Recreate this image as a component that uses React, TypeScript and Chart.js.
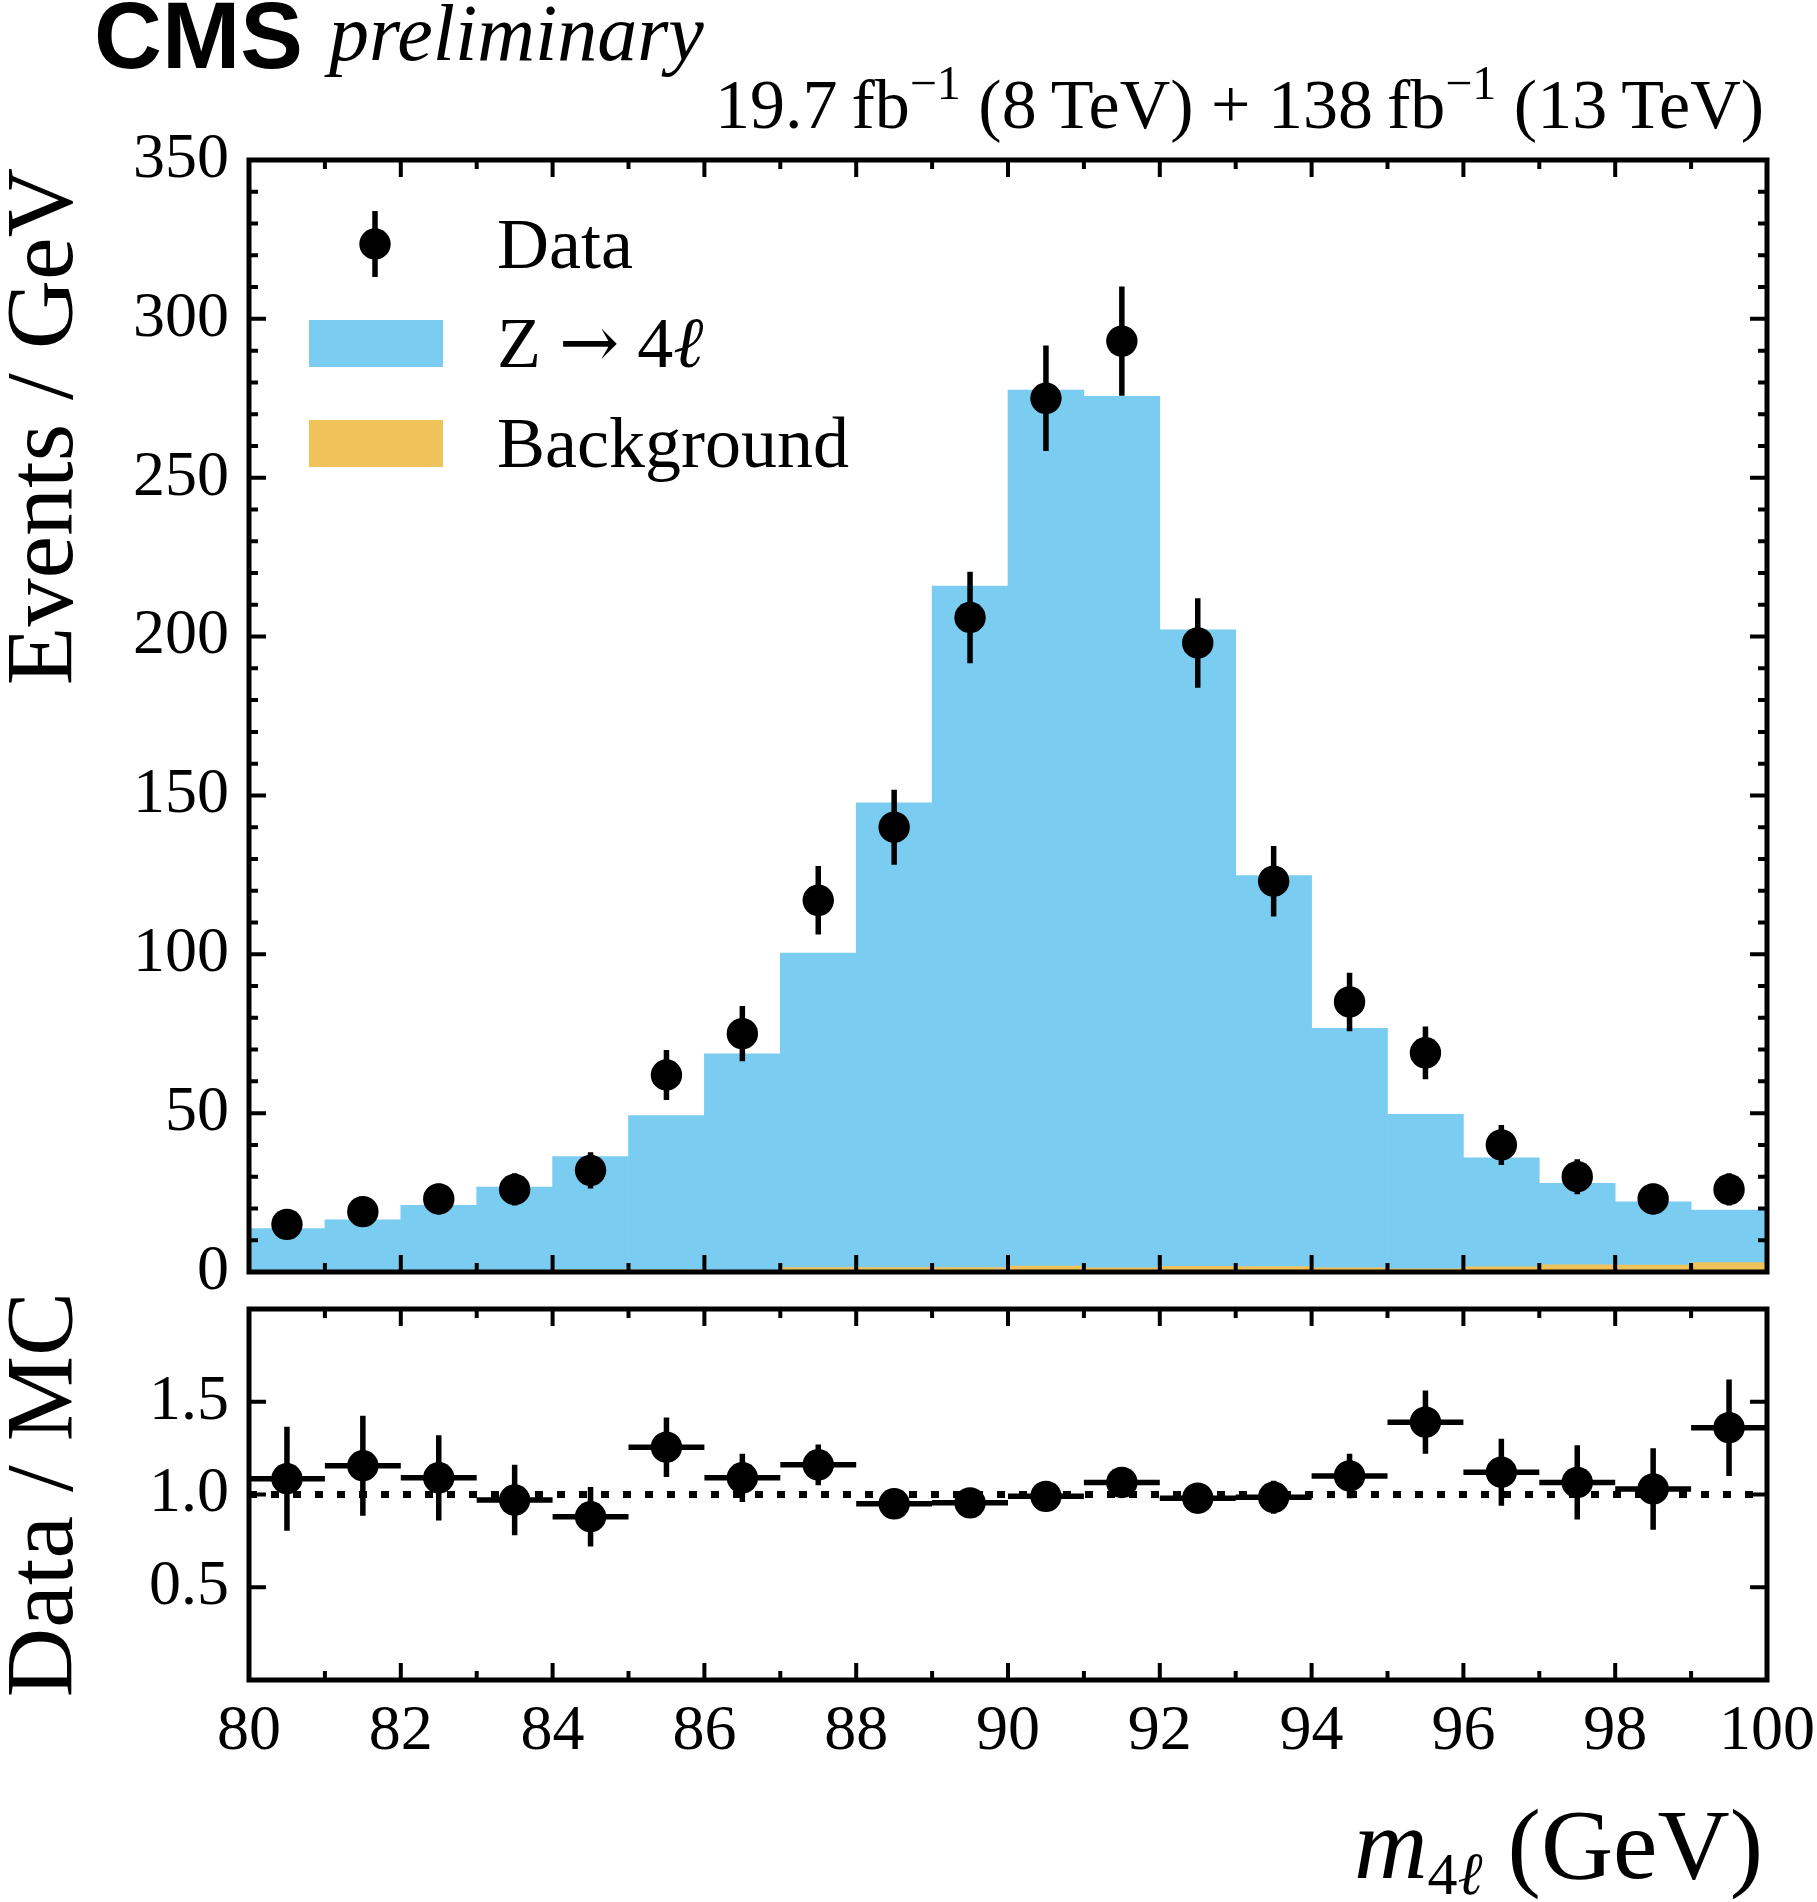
import React, { useEffect, useRef } from "react";
import { Chart, registerables } from "chart.js";

Chart.register(...registerables);

// ---------------- data ----------------
const binLabels = [
  "80-81", "81-82", "82-83", "83-84", "84-85", "85-86", "86-87", "87-88", "88-89", "89-90",
  "90-91", "91-92", "92-93", "93-94", "94-95", "95-96", "96-97", "97-98", "98-99", "99-100",
];
const binCenters = [
  80.5, 81.5, 82.5, 83.5, 84.5, 85.5, 86.5, 87.5, 88.5, 89.5,
  90.5, 91.5, 92.5, 93.5, 94.5, 95.5, 96.5, 97.5, 98.5, 99.5,
];
const dataCounts = [15, 19, 23, 26, 32, 62, 75, 117, 140, 206, 275, 293, 198, 123, 85, 69, 40, 30, 23, 26];
const dataErrors = [3.9, 4.4, 4.8, 5.1, 5.7, 7.9, 8.7, 10.8, 11.8, 14.4, 16.6, 17.2, 14.1, 11.1, 9.2, 8.3, 6.3, 5.5, 4.8, 5.1];
const backgroundYield = [0.3, 0.3, 0.5, 0.5, 0.9, 0.9, 0.4, 1.6, 1.6, 1.6, 2.1, 1.5, 2.0, 1.9, 1.5, 1.2, 1.8, 2.5, 2.4, 3.2];
const zSignal = [13.4, 16.1, 20.5, 26.2, 35.4, 48.3, 68.3, 98.8, 146.1, 214.3, 275.5, 274.1, 200.1, 122.9, 75.2, 48.4, 34.1, 25.4, 19.7, 16.3];
const ratioValues = [1.085, 1.155, 1.09, 0.97, 0.88, 1.255, 1.09, 1.16, 0.95, 0.955, 0.99, 1.065, 0.98, 0.985, 1.1, 1.39, 1.12, 1.065, 1.03, 1.36];
const ratioErrors = [0.28, 0.27, 0.23, 0.19, 0.16, 0.16, 0.13, 0.11, 0.08, 0.067, 0.06, 0.062, 0.07, 0.089, 0.12, 0.17, 0.18, 0.2, 0.22, 0.26];

const xMajorTicks = [80, 82, 84, 86, 88, 90, 92, 94, 96, 98, 100];
const xMinorTicks = [81, 83, 85, 87, 89, 91, 93, 95, 97, 99];
const mainYMajorTicks = [0, 50, 100, 150, 200, 250, 300, 350];
const mainYMinorTicks = [10, 20, 30, 40, 60, 70, 80, 90, 110, 120, 130, 140, 160, 170, 180, 190, 210, 220, 230, 240, 260, 270, 280, 290, 310, 320, 330, 340];
const ratioYMajorTicks = [0.5, 1.0, 1.5];

// ---------------- style ----------------
const BLUE = "#7acdf1";
const ORANGE = "#f0c35a";
const SERIF = "'Liberation Serif', 'Times New Roman', serif";
const SANS = "'Liberation Sans', Arial, sans-serif";
const W = 1817;
const H = 1902;
const AREA_LEFT = 249;
const AREA_RIGHT = 1767;
const MAIN_TOP = 160;
const MAIN_BOTTOM = 1272;
const RATIO_TOP = 1309;
const RATIO_BOTTOM = 1680;
const MAIN_CANVAS_H = 1320;
const RATIO_CANVAS_TOP = 1240;
const RATIO_CANVAS_H = H - RATIO_CANVAS_TOP;
const MARKER_R = 15.7;
const ERR_LW = 5.5;
const FRAME_LW = 5;
const TICK_LW = 4;
const MAJOR_LEN = 17;
const MINOR_LEN = 9;
const TICK_FONT = 64;
const LEG_FONT = 72;

function frameTicksPlugin(id: string, yMajor: number[], yMinor: number[]) {
  return {
    id,
    afterDatasetsDraw(chart: any) {
      const { ctx, chartArea } = chart;
      const xs = chart.scales.x;
      const ys = chart.scales.y;
      const { left, right, top, bottom } = chartArea;
      ctx.save();
      ctx.strokeStyle = "#000";
      ctx.lineWidth = TICK_LW;
      ctx.lineCap = "butt";
      ctx.beginPath();
      const vx = (vals: number[], len: number) => {
        vals.forEach((v) => {
          const px = xs.getPixelForValue(v);
          ctx.moveTo(px, bottom);
          ctx.lineTo(px, bottom - len);
          ctx.moveTo(px, top);
          ctx.lineTo(px, top + len);
        });
      };
      const vy = (vals: number[], len: number) => {
        vals.forEach((v) => {
          const py = ys.getPixelForValue(v);
          ctx.moveTo(left, py);
          ctx.lineTo(left + len, py);
          ctx.moveTo(right, py);
          ctx.lineTo(right - len, py);
        });
      };
      vx(xMajorTicks, MAJOR_LEN);
      vx(xMinorTicks, MINOR_LEN);
      vy(yMajor, MAJOR_LEN);
      vy(yMinor, MINOR_LEN);
      ctx.stroke();
      ctx.lineWidth = FRAME_LW;
      ctx.strokeRect(left, top, right - left, bottom - top);
      ctx.restore();
    },
  };
}

function errorBarPlugin(id: string, yVals: number[], yErr: number[], withX: boolean) {
  return {
    id,
    afterDatasetsDraw(chart: any) {
      const { ctx } = chart;
      const xs = chart.scales.x;
      const ys = chart.scales.y;
      ctx.save();
      ctx.strokeStyle = "#000";
      ctx.lineWidth = ERR_LW;
      ctx.beginPath();
      binCenters.forEach((x, i) => {
        const px = xs.getPixelForValue(x);
        ctx.moveTo(px, ys.getPixelForValue(yVals[i] - yErr[i]));
        ctx.lineTo(px, ys.getPixelForValue(yVals[i] + yErr[i]));
        if (withX) {
          const py = ys.getPixelForValue(yVals[i]);
          ctx.moveTo(xs.getPixelForValue(x - 0.5), py);
          ctx.lineTo(xs.getPixelForValue(x + 0.5), py);
        }
      });
      ctx.stroke();
      ctx.restore();
    },
  };
}

type Seg = { t: string; size: number; italic?: boolean; dy?: number; family?: string; bold?: boolean };

function segFont(s: Seg) {
  return `${s.italic ? "italic " : ""}${s.bold ? "bold " : ""}${s.size}px ${s.family || SERIF}`;
}

function drawSegs(ctx: CanvasRenderingContext2D, segs: Seg[], x: number, y: number, align: "left" | "right") {
  ctx.save();
  ctx.textAlign = "left";
  ctx.textBaseline = "alphabetic";
  ctx.fillStyle = "#000";
  let total = 0;
  segs.forEach((s) => {
    ctx.font = segFont(s);
    total += ctx.measureText(s.t).width;
  });
  let cx = align === "right" ? x - total : x;
  segs.forEach((s) => {
    ctx.font = segFont(s);
    ctx.fillText(s.t, cx, y + (s.dy || 0));
    cx += ctx.measureText(s.t).width;
  });
  ctx.restore();
}

const mainDecorPlugin = {
  id: "mainDecor",
  afterDraw(chart: any) {
    const ctx: CanvasRenderingContext2D = chart.ctx;
    // CMS label
    drawSegs(ctx, [{ t: "CMS", size: 94, bold: true, family: SANS }], 94, 68, "left");
    drawSegs(ctx, [{ t: "preliminary", size: 80, italic: true }], 329, 60, "left");
    // luminosity
    drawSegs(
      ctx,
      [
        { t: "19.7\u2009fb", size: 70 },
        { t: "\u22121", size: 48, dy: -29 },
        { t: " (8\u2009TeV) + 138\u2009fb", size: 70 },
        { t: "\u22121", size: 48, dy: -29 },
        { t: " (13\u2009TeV)", size: 70 },
      ],
      1764,
      128,
      "right"
    );
    // y title
    ctx.save();
    ctx.fillStyle = "#000";
    ctx.font = `96px ${SERIF}`;
    ctx.translate(72, 168);
    ctx.rotate(-Math.PI / 2);
    ctx.textAlign = "right";
    ctx.textBaseline = "alphabetic";
    ctx.fillText("Events / GeV", 0, 0);
    ctx.restore();
    // legend
    ctx.save();
    ctx.fillStyle = "#000";
    ctx.strokeStyle = "#000";
    ctx.lineWidth = ERR_LW;
    ctx.beginPath();
    ctx.moveTo(375, 211);
    ctx.lineTo(375, 277);
    ctx.stroke();
    ctx.beginPath();
    ctx.arc(375, 244, MARKER_R, 0, Math.PI * 2);
    ctx.fill();
    ctx.fillStyle = BLUE;
    ctx.fillRect(309, 320, 134, 47);
    ctx.fillStyle = ORANGE;
    ctx.fillRect(309, 420, 134, 47);
    ctx.restore();
    drawSegs(ctx, [{ t: "Data", size: LEG_FONT }], 497, 268, "left");
    drawSegs(
      ctx,
      [
        { t: "Z ", size: LEG_FONT },
        { t: "\u2192", size: LEG_FONT, family: "'DejaVu Serif', serif" },
        { t: " 4", size: LEG_FONT },
        { t: "\u2113", size: LEG_FONT, italic: true },
      ],
      497,
      367,
      "left"
    );
    drawSegs(ctx, [{ t: "Background", size: LEG_FONT }], 497, 467, "left");
  },
};

const ratioDecorPlugin = {
  id: "ratioDecor",
  afterDraw(chart: any) {
    const ctx: CanvasRenderingContext2D = chart.ctx;
    const area = chart.chartArea;
    ctx.save();
    ctx.fillStyle = "#000";
    ctx.font = `96px ${SERIF}`;
    ctx.translate(72, (area.top + area.bottom) / 2);
    ctx.rotate(-Math.PI / 2);
    ctx.textAlign = "center";
    ctx.textBaseline = "alphabetic";
    ctx.fillText("Data / MC", 0, 0);
    ctx.restore();
    drawSegs(
      ctx,
      [
        { t: "m", size: 102, italic: true },
        { t: "4", size: 60, dy: 16 },
        { t: "\u2113", size: 60, italic: true, dy: 16 },
        { t: " (GeV)", size: 100 },
      ],
      1763,
      1878 - RATIO_CANVAS_TOP,
      "right"
    );
  },
};

export default function App() {
  const mainRef = useRef<HTMLCanvasElement | null>(null);
  const ratioRef = useRef<HTMLCanvasElement | null>(null);

  useEffect(() => {
    document.body.style.margin = "0";
    document.body.style.overflow = "hidden";
    const tickFont = { family: SERIF, size: TICK_FONT };

    const main = new Chart(mainRef.current as HTMLCanvasElement, {
      type: "bar",
      data: {
        labels: binLabels,
        datasets: [
          {
            type: "scatter",
            label: "Data",
            data: binCenters.map((x, i) => ({ x, y: dataCounts[i] })),
            xAxisID: "x",
            yAxisID: "y",
            pointRadius: MARKER_R,
            pointBackgroundColor: "#000",
            pointBorderWidth: 0,
            order: 1,
          } as any,
          {
            type: "bar",
            label: "Z \u2192 4\u2113",
            data: zSignal.map((v, i) => [backgroundYield[i], backgroundYield[i] + v]),
            xAxisID: "xc",
            yAxisID: "y",
            backgroundColor: BLUE,
            borderWidth: 0,
            barPercentage: 1,
            categoryPercentage: 1,
            grouped: false,
            order: 2,
          } as any,
          {
            type: "bar",
            label: "Background",
            data: backgroundYield.map((v) => [0, v]),
            xAxisID: "xc",
            yAxisID: "y",
            backgroundColor: ORANGE,
            borderWidth: 0,
            barPercentage: 1,
            categoryPercentage: 1,
            grouped: false,
            order: 3,
          } as any,
        ],
      },
      options: {
        animation: false,
        responsive: false,
        devicePixelRatio: 1,
        events: [],
        layout: { padding: { left: 0, right: W - AREA_RIGHT, top: MAIN_TOP, bottom: MAIN_CANVAS_H - MAIN_BOTTOM } },
        plugins: { legend: { display: false }, tooltip: { enabled: false } },
        scales: {
          xc: { type: "category", labels: binLabels, offset: true, display: false },
          x: { type: "linear", min: 80, max: 100, offset: false, display: false },
          y: {
            type: "linear",
            position: "left",
            min: 0,
            max: 350,
            grid: { display: false, drawTicks: false },
            border: { display: false },
            ticks: { color: "#000", font: tickFont, padding: 20 },
            afterBuildTicks: (s: any) => {
              s.ticks = mainYMajorTicks.map((v) => ({ value: v }));
            },
            afterFit: (s: any) => {
              s.width = AREA_LEFT;
              s.paddingTop = 0;
              s.paddingBottom = 0;
            },
          },
        },
      } as any,
      plugins: [
        frameTicksPlugin("mainFrame", mainYMajorTicks, mainYMinorTicks),
        errorBarPlugin("mainErr", dataCounts, dataErrors, false),
        mainDecorPlugin,
      ],
    });

    const ratio = new Chart(ratioRef.current as HTMLCanvasElement, {
      type: "scatter",
      data: {
        datasets: [
          {
            type: "scatter",
            label: "Data/MC",
            data: binCenters.map((x, i) => ({ x, y: ratioValues[i] })),
            pointRadius: MARKER_R,
            pointBackgroundColor: "#000",
            pointBorderWidth: 0,
            order: 1,
          } as any,
          {
            type: "line",
            label: "unity",
            data: [
              { x: 80, y: 1 },
              { x: 100, y: 1 },
            ],
            borderColor: "#000",
            borderWidth: 7,
            borderDash: [8, 14],
            pointRadius: 0,
            fill: false,
            order: 2,
          } as any,
        ],
      },
      options: {
        animation: false,
        responsive: false,
        devicePixelRatio: 1,
        events: [],
        layout: { padding: { left: 0, right: W - AREA_RIGHT, top: RATIO_TOP - RATIO_CANVAS_TOP, bottom: 0 } },
        plugins: { legend: { display: false }, tooltip: { enabled: false } },
        scales: {
          x: {
            type: "linear",
            min: 80,
            max: 100,
            offset: false,
            grid: { display: false, drawTicks: false },
            border: { display: false },
            ticks: { color: "#000", font: tickFont, padding: 14, maxRotation: 0 },
            afterBuildTicks: (s: any) => {
              s.ticks = xMajorTicks.map((v) => ({ value: v }));
            },
            afterFit: (s: any) => {
              s.height = RATIO_CANVAS_H - (RATIO_BOTTOM - RATIO_CANVAS_TOP);
              s.paddingLeft = 0;
              s.paddingRight = 0;
            },
          },
          y: {
            type: "linear",
            position: "left",
            min: 0,
            max: 2,
            grid: { display: false, drawTicks: false },
            border: { display: false },
            ticks: {
              color: "#000",
              font: tickFont,
              padding: 20,
              callback: (v: any) => Number(v).toFixed(1),
            },
            afterBuildTicks: (s: any) => {
              s.ticks = ratioYMajorTicks.map((v) => ({ value: v }));
            },
            afterFit: (s: any) => {
              s.width = AREA_LEFT;
              s.paddingTop = 0;
              s.paddingBottom = 0;
            },
          },
        },
      } as any,
      plugins: [
        frameTicksPlugin("ratioFrame", ratioYMajorTicks, []),
        errorBarPlugin("ratioErr", ratioValues, ratioErrors, true),
        ratioDecorPlugin,
      ],
    });

    return () => {
      main.destroy();
      ratio.destroy();
    };
  }, []);

  return (
    <div style={{ position: "absolute", left: 0, top: 0, width: W, height: H, background: "#fff", overflow: "hidden" }}>
      <canvas
        ref={mainRef}
        width={W}
        height={MAIN_CANVAS_H}
        style={{ position: "absolute", left: 0, top: 0, width: W, height: MAIN_CANVAS_H }}
      />
      <canvas
        ref={ratioRef}
        width={W}
        height={RATIO_CANVAS_H}
        style={{ position: "absolute", left: 0, top: RATIO_CANVAS_TOP, width: W, height: RATIO_CANVAS_H }}
      />
    </div>
  );
}
